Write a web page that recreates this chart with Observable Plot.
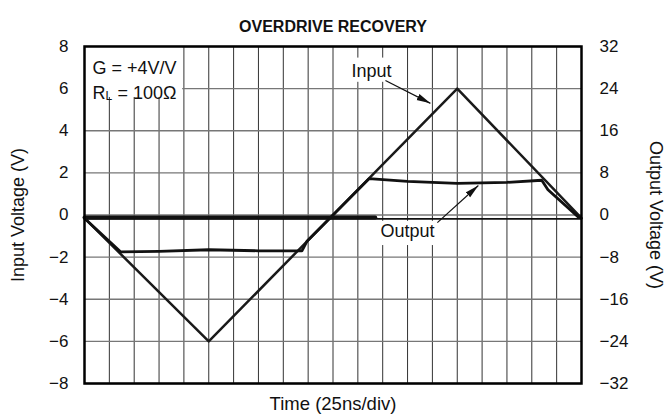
<!DOCTYPE html>
<html><head><meta charset="utf-8">
<script src="https://cdn.jsdelivr.net/npm/d3@7"></script>
<script src="https://cdn.jsdelivr.net/npm/@observablehq/plot@0.6"></script>
<style>body{margin:0;background:#fff;} svg{display:block}</style>
</head><body><div id="chart"></div>
<script>
// time axis in divisions (25 ns/div)
const divisions = d3.range(0, 21);
const inputTicks = [-8, -6, -4, -2, 0, 2, 4, 6, 8];
const outputTickLabels = ["−32", "−24", "−16", "−8", "0", "8", "16", "24", "32"];
const gain = 4;

// Input trace (V, left axis)
const inputTime  = [0, 5, 15, 20];
const inputVolts = [-0.15, -6, 6, -0.15];

// Output trace (V, right axis)
const outputTime  = [0, 1.45, 3, 5, 7, 8.75, 8.95, 11.45, 13, 15, 17, 18.4, 18.65, 19.9];
const outputVolts = [-0.6, -7.0, -6.9, -6.6, -6.8, -6.8, -5.0, 6.9, 6.4, 6.0, 6.2, 6.6, 4.8, -0.5];

// Reference baseline trace (V, left axis)
const baseTime = [0, 20];
const baseVolts = [-0.18, -0.18];
const baseThickTime = [0, 11.7];
const baseThickVolts = [-0.12, -0.12];

const toRows = (xs, ys) => xs.map((x, i) => ({x, y: ys[i]}));

const plot = Plot.plot({
  width: 668, height: 420,
  marginLeft: 84, marginRight: 87, marginTop: 46, marginBottom: 37,
  x: {domain: [0, 20], axis: null},
  y: {domain: [-8, 8], axis: null},
  style: {fontFamily: "'Liberation Sans', Arial, sans-serif", fontSize: "17px", background: "white", color: "#111"},
  marks: [
    Plot.ruleX(divisions, {x: d => d, stroke: "#333", strokeWidth: 1}),
    Plot.ruleY(inputTicks, {y: d => d, stroke: "#777", strokeWidth: 1.3}),
    // white label backgrounds
    Plot.rect([{x1: 0, x2: 3.95, y1: 5.58, y2: 8}], {x1: "x1", x2: "x2", y1: "y1", y2: "y2", fill: "white"}),
    Plot.rect([{x1: 10.6, x2: 12.5, y1: 6.3, y2: 7.45}], {x1: "x1", x2: "x2", y1: "y1", y2: "y2", fill: "white"}),
    Plot.rect([{x1: 11.75, x2: 14.25, y1: -1.45, y2: -0.3}], {x1: "x1", x2: "x2", y1: "y1", y2: "y2", fill: "white"}),
    // traces
    Plot.line(toRows(baseTime, baseVolts), {x: "x", y: "y", stroke: "#111", strokeWidth: 1.8}),
    Plot.line(toRows(baseThickTime, baseThickVolts), {x: "x", y: "y", stroke: "#111", strokeWidth: 4}),
    Plot.line(toRows(inputTime, inputVolts), {x: "x", y: "y", stroke: "#1a1a1a", strokeWidth: 2.5}),
    Plot.line(toRows(outputTime, outputVolts.map(v => v / gain)), {x: "x", y: "y", stroke: "#111", strokeWidth: 2.8, curve: "linear"}),
    Plot.frame({stroke: "#000", strokeWidth: 2.5}),
    // axes
    Plot.axisY(inputTicks, {anchor: "left", tickSize: 0, tickPadding: 16, label: null, fontSize: 17,
      tickFormat: d => d < 0 ? "−" + (-d) : String(d)}),
    Plot.axisY(inputTicks, {anchor: "right", tickSize: 0, tickPadding: 18, label: null, fontSize: 17,
      tickFormat: d => outputTickLabels[inputTicks.indexOf(d)]}),
    // titles
    Plot.text(["OVERDRIVE RECOVERY"], {text: d => d, frameAnchor: "top", dy: -26, fontWeight: "bold", fontSize: 16}),
    Plot.text([{x: -2.66, y: 0, t: "Input Voltage (V)"}], {x: "x", y: "y", text: "t", rotate: -90, fontSize: 18}),
    Plot.text([{x: 22.98, y: 0, t: "Output Voltage (V)"}], {x: "x", y: "y", text: "t", rotate: 90, fontSize: 18}),
    Plot.text(["Time (25ns/div)"], {text: d => d, frameAnchor: "bottom", dy: 26, fontSize: 18.5}),
    // legend box text
    Plot.text(["G = +4V/V"], {text: d => d, frameAnchor: "top-left", dx: 8, dy: 15, textAnchor: "start", fontSize: 18}),
    Plot.text(["R"], {text: d => d, frameAnchor: "top-left", dx: 8, dy: 40, textAnchor: "start", fontSize: 18}),
    Plot.text(["L"], {text: d => d, frameAnchor: "top-left", dx: 21, dy: 45, textAnchor: "start", fontSize: 12}),
    Plot.text(["= 100Ω"], {text: d => d, frameAnchor: "top-left", dx: 33, dy: 40, textAnchor: "start", fontSize: 18}),
    // annotations
    Plot.text([{x: 11.55, y: 6.82, t: "Input"}], {x: "x", y: "y", text: "t", fontSize: 18}),
    Plot.text([{x: 13.0, y: -0.76, t: "Output"}], {x: "x", y: "y", text: "t", fontSize: 18}),
    Plot.link([{x1: 12.11, y1: 6.39, x2: 13.92, y2: 5.3}, {x1: 14.2, y1: -0.36, x2: 15.85, y2: 1.4}],
      {x1: "x1", y1: "y1", x2: "x2", y2: "y2", stroke: "#111", strokeWidth: 1.2, ariaLabel: "arrows", markerEnd: "arrow"})
  ]
});

// filled arrowheads on the annotation links
const svg = d3.select(plot);
const defs = svg.insert("defs", ":first-child");
defs.append("marker").attr("id", "ahfill").attr("viewBox", "0 -4 14 8").attr("refX", 14).attr("refY", 0)
  .attr("markerWidth", 14).attr("markerHeight", 8).attr("markerUnits", "userSpaceOnUse").attr("orient", "auto")
  .append("path").attr("d", "M0,-3.3L14,0L0,3.3Z").attr("fill", "#111").attr("stroke", "none");
svg.selectAll("path").filter(function() { return this.getAttribute("marker-end"); })
  .attr("marker-end", "url(#ahfill)");
svg.selectAll("g").filter(function() { return this.getAttribute("marker-end"); })
  .attr("marker-end", "url(#ahfill)");

document.getElementById("chart").appendChild(plot);
</script>
</body></html>
